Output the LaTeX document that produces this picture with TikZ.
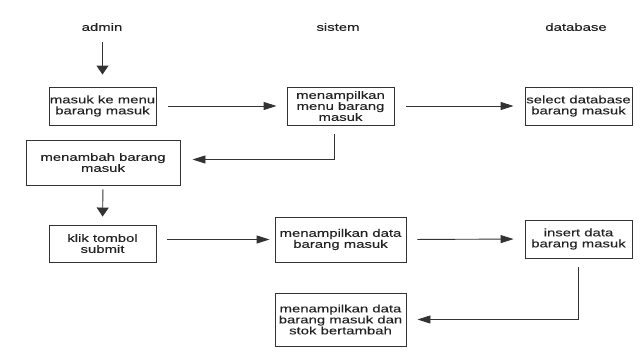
\documentclass[tikz,border=0pt]{standalone}
\usepackage{fontspec}
\setmainfont{Liberation Sans}[FakeStretch=1.38, FakeBold=0.15]
\usetikzlibrary{arrows.meta}
\definecolor{ink}{HTML}{222222}
\definecolor{edge}{HTML}{333333}
\tikzset{
  lbl/.style={inner sep=0pt, text=ink, font=\fontsize{10.8}{11}\selectfont},
  box/.style={draw=edge, line width=0.9pt, inner sep=0pt, align=center,
    text=ink, font=\fontsize{10.8}{11}\selectfont},
  harr/.style={draw=edge, line width=0.9pt, -{Triangle[length=13pt,width=8pt]}},
  varr/.style={draw=edge, line width=0.9pt, -{Triangle[length=9pt,width=12pt]}},
}
\begin{document}
\begin{tikzpicture}[x=1pt, y=-1pt]
  \useasboundingbox (0,0) rectangle (644,362);
  % lane headings
  \node[lbl] (admin) at (102,27) {admin};
  \node[lbl] (sistem) at (338,27) {sistem};
  \node[lbl] (db) at (576,27) {database};
  % process boxes
  \node[box, minimum width=107pt, minimum height=38pt] (b1) at (102.5,106) {masuk ke menu\\barang masuk};
  \node[box, minimum width=107pt, minimum height=38pt] (b2) at (340.5,106) {menampilkan\\menu barang\\masuk};
  \node[box, minimum width=107pt, minimum height=38pt] (b3) at (578.5,106) {select database\\barang masuk};
  \node[box, minimum width=154pt, minimum height=45pt] (b4) at (103,162.5) {menambah barang\\masuk};
  \node[box, minimum width=107pt, minimum height=37pt] (b5) at (102.5,243.5) {klik tombol\\submit};
  \node[box, minimum width=131pt, minimum height=45pt] (b6) at (340.5,239.5) {menampilkan data\\barang masuk};
  \node[box, minimum width=107pt, minimum height=38pt] (b7) at (578.5,239) {insert data\\barang masuk};
  \node[box, minimum width=131pt, minimum height=53pt] (b8) at (340.5,319.5) {menampilkan data\\barang masuk dan\\stok bertambah};
  % connectors
  \draw[varr, shorten <=11pt, shorten >=12pt] (admin.south -| b1.north) -- (b1.north);
  \draw[harr, shorten <=12pt, shorten >=10pt] (b1.east) -- (b2.west);
  \draw[harr, shorten <=12pt, shorten >=11pt] (b2.east) -- (b3.west);
  \draw[harr, shorten <=9pt, shorten >=12pt] ([xshift=-6pt]b2.south) |- ([yshift=3pt]b4.east);
  \draw[varr, shorten <=4pt, shorten >=8pt] (b4.south) -- (b5.north);
  \draw[harr, shorten <=11pt, shorten >=5pt] (b5.east |- b6.west) -- (b6.west);
  \draw[harr, shorten <=11pt, shorten >=11pt] (b6.east) -- (b7.west);
  \draw[harr, shorten <=9pt, shorten >=11pt] (b7.south) |- (b8.east);
\end{tikzpicture}
\end{document}
